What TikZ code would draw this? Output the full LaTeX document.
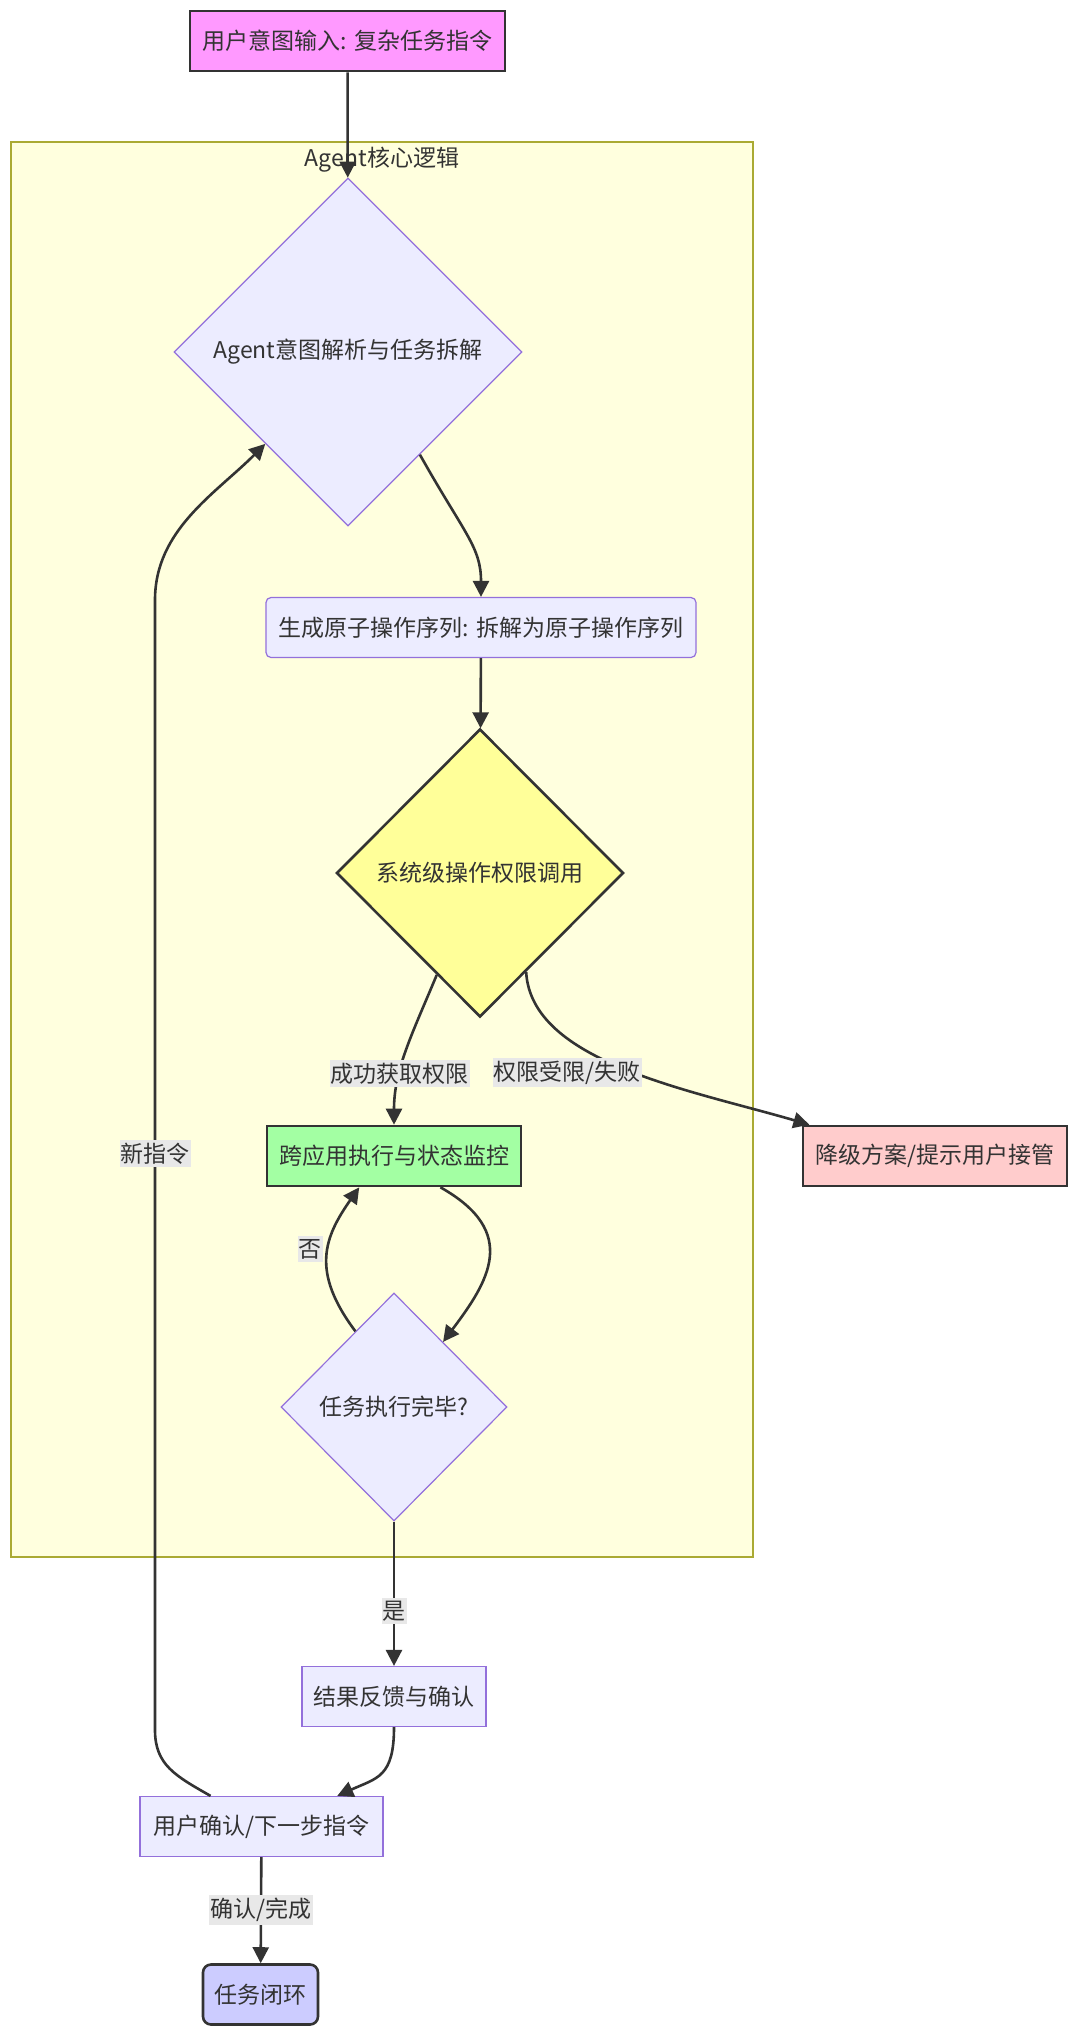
\documentclass[tikz,border=0pt]{standalone}
\usepackage{fontspec}
\setmainfont{Noto Sans CJK SC}
\usetikzlibrary{shapes.geometric,arrows.meta}

\definecolor{NodeFill}{HTML}{ECECFF}
\definecolor{NodeLine}{HTML}{9370DB}
\definecolor{GroupFill}{HTML}{FFFFDE}
\definecolor{GroupLine}{HTML}{AAAA33}
\definecolor{Ink}{HTML}{333333}
\definecolor{LabelFill}{HTML}{E8E8E8}
\definecolor{InputPink}{HTML}{FF99FF}
\definecolor{PermYellow}{HTML}{FFFF99}
\definecolor{RunGreen}{HTML}{A3FFA3}
\definecolor{FallRed}{HTML}{FFCCCC}
\definecolor{DoneBlue}{HTML}{CCCCFF}

\newcommand{\diagfont}{\fontsize{11.5}{14}\selectfont}

\tikzset{
    % plain flow step
    procbox/.style={
        rectangle,
        draw=NodeLine,
        fill=NodeFill,
        line width=0.6pt,
        minimum height=30pt,
        inner sep=0pt,
        text=Ink,
        font=\diagfont
    },
    roundbox/.style={
        procbox,
        rounded corners=2.5pt
    },
    % highlighted step, dark frame
    strongbox/.style={
        rectangle,
        draw=Ink,
        line width=1.3pt,
        minimum height=30pt,
        inner sep=0pt,
        text=Ink,
        font=\diagfont
    },
    decision/.style={
        diamond,
        draw=NodeLine,
        fill=NodeFill,
        line width=0.6pt,
        inner sep=0pt,
        text=Ink,
        font=\diagfont
    },
    groupbox/.style={
        draw=GroupLine,
        fill=GroupFill,
        line width=0.6pt
    },
    edgelabel/.style={
        fill=LabelFill,
        inner xsep=0.5pt,
        inner ysep=1.5pt,
        text=Ink,
        font=\diagfont
    },
    arrow/.style={
        -{Triangle[length=8pt,width=8pt]},
        line width=1.3pt,
        draw=Ink
    }
}

\begin{document}
\begin{tikzpicture}[x=0.5pt, y=-0.5pt]
    \fill[white] (0,0) rectangle (1080,2035);
    \useasboundingbox (0,0) rectangle (1080,2035);

    % Agent core group
    \draw[groupbox] (11,142) rectangle (753,1557);
    \node[text=Ink, font=\diagfont] (coretitle) at (382,160) {Agent核心逻辑};

    % User input
    \node[strongbox, fill=InputPink, minimum width=157.5pt] (input) at (347.5,41) {用户意图输入: 复杂任务指令};

    % Intent parsing
    \node[decision, minimum width=174pt, minimum height=174pt] (parse) at (348,352) {Agent意图解析与任务拆解};

    % Atomic sequence
    \node[roundbox, minimum width=215pt] (atomic) at (481,627.5) {生成原子操作序列: 拆解为原子操作序列};

    % Permission call
    \node[decision, draw=Ink, line width=1.3pt, fill=PermYellow, minimum width=143.5pt, minimum height=144pt] (perm) at (480,873) {系统级操作权限调用};

    % Execution and fallback
    \node[strongbox, fill=RunGreen, minimum width=127pt] (run) at (394,1156) {跨应用执行与状态监控};
    \node[strongbox, fill=FallRed, minimum width=132pt] (fallback) at (935,1156) {降级方案/提示用户接管};

    % Finished?
    \node[decision, minimum width=113pt, minimum height=114pt] (done) at (394,1407) {任务执行完毕?};

    % Feedback, confirmation, end
    \node[procbox, minimum width=92pt] (result) at (394,1696.5) {结果反馈与确认};
    \node[procbox, minimum width=121.5pt] (confirm) at (261.5,1826.5) {用户确认/下一步指令};
    \node[strongbox, rounded corners=4pt, fill=DoneBlue, minimum width=57.5pt] (closed) at (260.5,1994.5) {任务闭环};

    % Way back for a new instruction
    \coordinate (backlow) at (155,1730);
    \coordinate (backhigh) at (155,600);

    % Arrows
    \draw[arrow] (input) -- (parse);
    \draw[arrow] (parse.-55) .. controls +(45,80) and +(0,-50) .. (atomic.north);
    \draw[arrow] (atomic) -- (perm);
    \draw[arrow] (perm.247) .. controls +(-25,60) and +(0,-55) .. node[edgelabel, pos=0.66] {成功获取权限} (run.north);
    \draw[arrow] (perm.-65) .. controls +(5,90) and +(-120,-35) .. node[edgelabel, pos=0.4, xshift=-13pt, yshift=-9pt] {权限受限/失败} (fallback.166);
    \draw[arrow] (run.-34) .. controls +(80,45) and +(45,-60) .. (done.53);
    \draw[arrow] (done.117) .. controls +(-45,-60) and +(-35,50) .. node[edgelabel, pos=0.55, anchor=east, xshift=-2pt] {否} (run.222);
    \draw[arrow] (done) -- node[edgelabel, pos=0.62] {是} (result);
    \draw[arrow] (result.south) .. controls +(0,50) and +(40,-18) .. (confirm.22);
    \draw[arrow] (confirm.149) .. controls +(-35,-20) and +(0,35) .. (backlow) -- node[edgelabel, pos=0.51] {新指令} (backhigh) .. controls +(0,-70) and +(-50,50) .. (parse.228);
    \draw[arrow] (confirm) -- node[edgelabel] {确认/完成} (closed);
\end{tikzpicture}
\end{document}
